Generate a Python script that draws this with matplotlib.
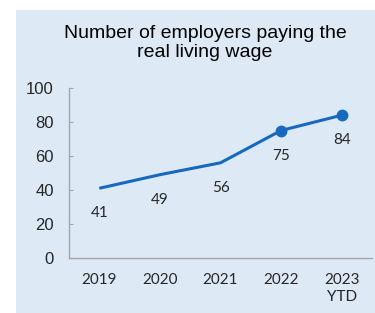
import matplotlib
matplotlib.use("Agg")
import matplotlib.pyplot as plt

years = ["2019", "2020", "2021", "2022", "2023\nYTD"]
employers = [41, 49, 56, 75, 84]
marked = [False, False, False, True, True]
y_ticks = [0, 20, 40, 60, 80, 100]

LINE = "#1769C0"
PANEL = "#DDEAF6"
SPINE = "#A6A6A6"
TEXT = "#262626"

fig = plt.figure(figsize=(3.75, 3.13), dpi=100)
fig.patch.set_facecolor("white")

# light blue panel behind everything, white strip on left and top
bg = fig.add_axes([16 / 375, 0, 1 - 16 / 375, 1 - 10 / 313], zorder=-1)
bg.set_facecolor(PANEL)
bg.set_xticks([])
bg.set_yticks([])
for s in bg.spines.values():
    s.set_visible(False)

ax = fig.add_axes([69 / 375, 1 - 258 / 313, 303 / 375, 170 / 313])
ax.set_facecolor("none")

x = list(range(len(years)))
ax.plot(x, employers, color=LINE, linewidth=2.2, solid_capstyle="butt")
mx = [i for i, m in zip(x, marked) if m]
my = [v for v, m in zip(employers, marked) if m]
ax.plot(mx, my, "o", color=LINE, markersize=7.5)

for i, v in zip(x, employers):
    ax.annotate(str(v), (i, v), xytext=(0, -18), textcoords="offset points",
                ha="center", va="center", fontsize=11, family="Lato", color=TEXT)

ax.set_xlim(-0.5, 4.5)
ax.set_ylim(0, 100)
ax.set_yticks(y_ticks)
ax.set_xticks(x)
ax.set_xticklabels(years, family="Lato", fontsize=11, color=TEXT, linespacing=1.25)
ax.set_yticklabels([str(t) for t in y_ticks], family="Liberation Sans",
                   fontsize=12, color=TEXT)
ax.tick_params(axis="x", length=0, pad=11)
ax.tick_params(axis="y", direction="in", length=3, color=SPINE, pad=11)

for side in ("top", "right"):
    ax.spines[side].set_visible(False)
for side in ("left", "bottom"):
    ax.spines[side].set_color(SPINE)
    ax.spines[side].set_linewidth(1.0)

fig.text(205 / 375, 1 - 43 / 313, "Number of employers paying the\nreal living wage",
         ha="center", va="center", fontsize=14, family="Liberation Sans",
         color="black", linespacing=1.2)

fig.savefig("out.png", dpi=100, facecolor="white")
